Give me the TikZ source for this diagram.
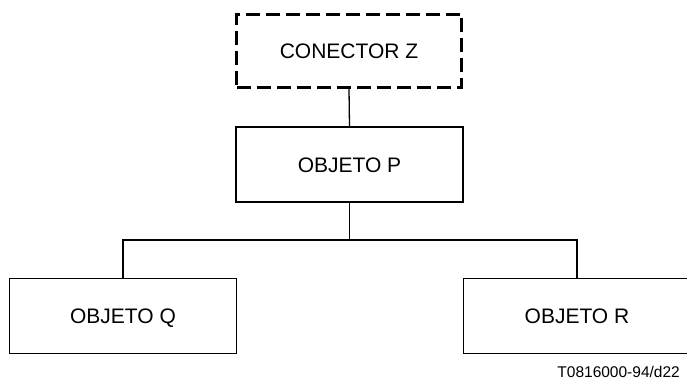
\documentclass[tikz,border=0pt]{standalone}
\usepackage{fontspec}
\setmainfont{Liberation Sans}
\begin{document}
\begin{tikzpicture}[x=1pt,y=-1pt,
  objbox/.style={draw, line width=1.3pt, minimum width=227pt, minimum height=75pt,
    inner sep=0pt, text height=15pt, text depth=0pt,
    font=\fontsize{21}{25}\selectfont},
  connbox/.style={draw, line width=3pt, dash pattern=on 14pt off 6pt,
    minimum width=225pt, minimum height=73pt, inner sep=0pt,
    text height=15pt, text depth=0pt,
    font=\fontsize{21}{25}\selectfont},
  link/.style={line width=1.3pt}]
  \useasboundingbox (0,0) rectangle (687,385);
  % hierarchy boxes
  \node[connbox] (z) at (349,51) {CONECTOR Z};
  \node[objbox] (p) at (349.5,164.5) {OBJETO P};
  \node[objbox] (q) at (123,316) {OBJETO Q};
  \node[objbox] (r) at (577,316) {OBJETO R};
  % branching point below P
  \coordinate (fork) at (349.5,240);
  % connectors
  \draw[link] (z.south) -- (p.north);
  \draw[link] (p.south) -- (fork);
  \draw[link] (q.north) |- (fork) -| (r.north);
  % figure reference
  \node[anchor=base east, inner sep=0pt, font=\fontsize{15.5}{18}\selectfont] (ref) at (680,377) {T0816000-94/d22};
\end{tikzpicture}
\end{document}
